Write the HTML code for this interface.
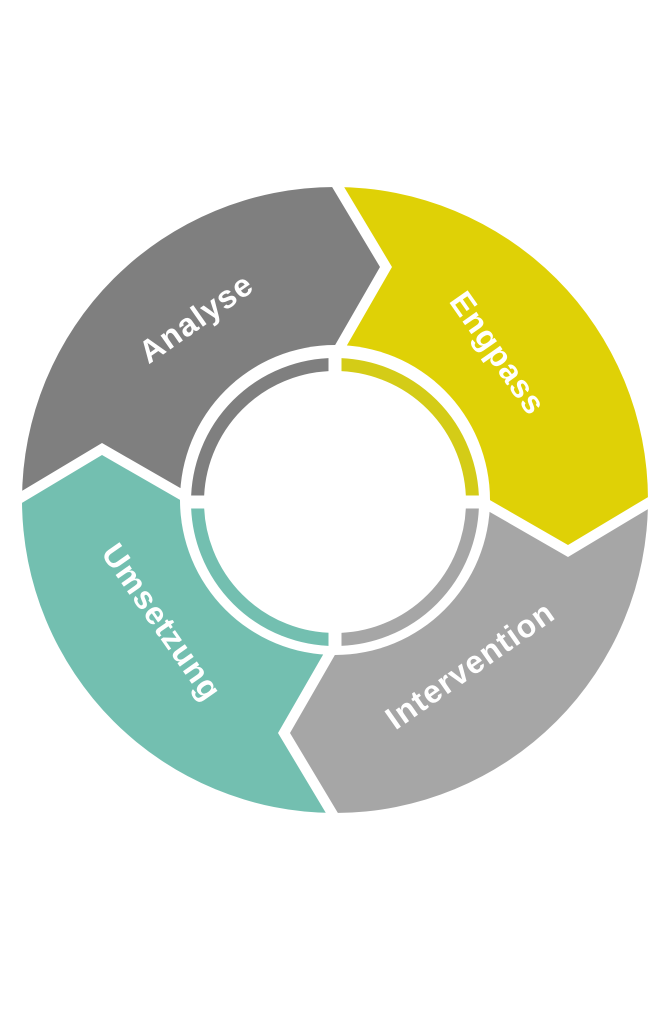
<!DOCTYPE html>
<html><head><style>
html,body{margin:0;padding:0;background:#fff;}
svg{display:block;}
text{font-family:"Liberation Sans",sans-serif;font-weight:bold;font-size:32px;letter-spacing:1.2px;fill:#fff;text-anchor:middle;dominant-baseline:central;}
</style></head><body>
<svg width="668" height="1024" viewBox="0 0 668 1024">
<defs>
<clipPath id="c"><circle cx="0" cy="0" r="313"/></clipPath>
<polygon id="seg" points="0,0 -120,8 -233,-57 -400,43 -400,-400 -55,-400 45,-233 -20,-120"/>
</defs>
<g transform="translate(335,500)">
<g clip-path="url(#c)">
<use href="#seg" fill="#7f7f7f"/>
<use href="#seg" fill="#dfd106" transform="rotate(90)"/>
<use href="#seg" fill="#a6a6a6" transform="rotate(180)"/>
<use href="#seg" fill="#73bfb0" transform="rotate(270)"/>
</g>
<circle r="155" fill="#fff"/>
</g>
<g transform="translate(335,502)" fill="none" stroke-width="13">
<path d="M-137.5,0 A137.5,137.5 0 0 1 0,-137.5" stroke="#7f7f7f"/>
<path d="M0,-137.5 A137.5,137.5 0 0 1 137.5,0" stroke="#d4cc17"/>
<path d="M137.5,0 A137.5,137.5 0 0 1 0,137.5" stroke="#a6a6a6"/>
<path d="M0,137.5 A137.5,137.5 0 0 1 -137.5,0" stroke="#73bfb0"/>
<rect x="-6.5" y="-150" width="13" height="300" fill="#fff" stroke="none"/>
<rect x="-150" y="-6.5" width="300" height="13" fill="#fff" stroke="none"/>
</g>
<text transform="translate(196,318) rotate(-35)">Analyse</text>
<text transform="translate(498,353) rotate(55)">Engpass</text>
<text transform="translate(470,665) rotate(-35)">Intervention</text>
<text transform="translate(162,622) rotate(55)">Umsetzung</text>
</svg>
</body></html>
